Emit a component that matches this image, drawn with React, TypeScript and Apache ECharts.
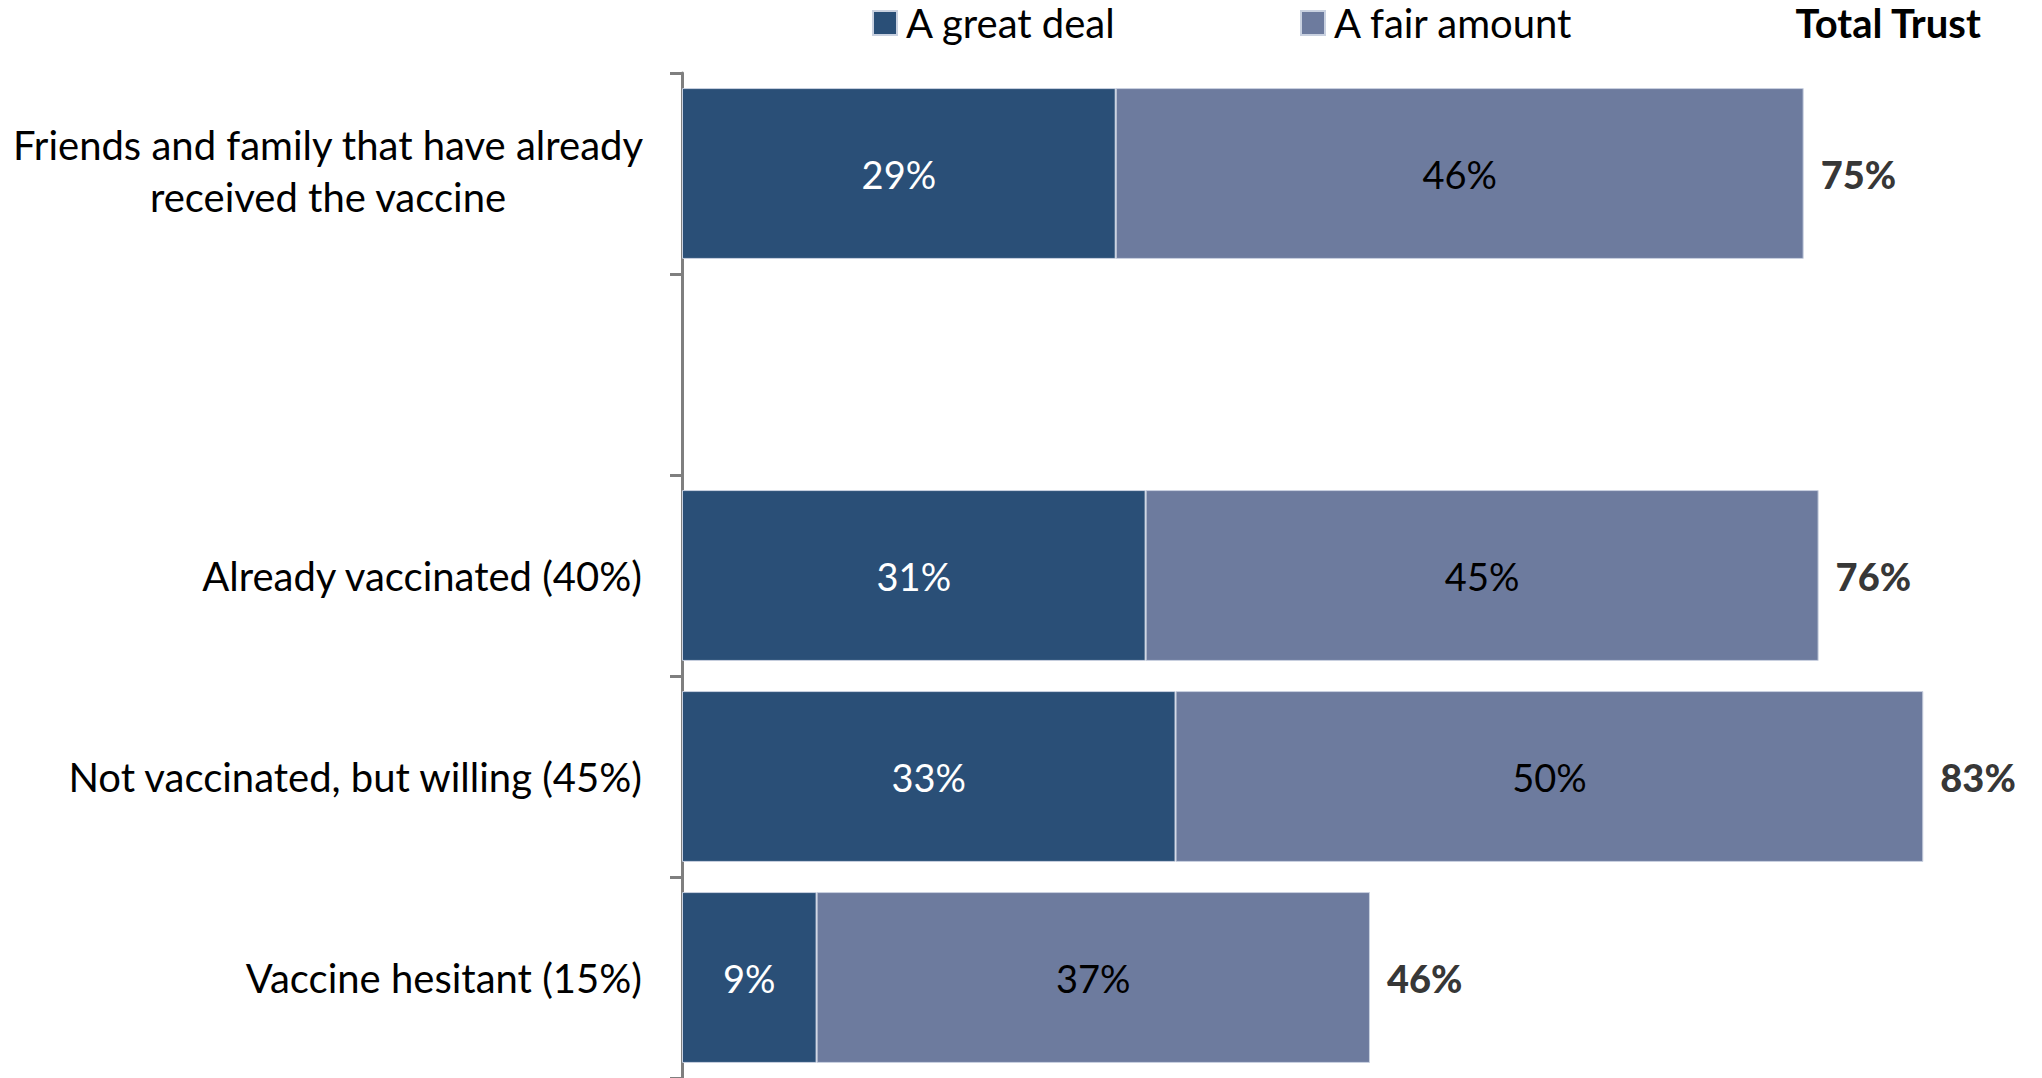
import React, { useEffect, useRef } from "react";
import * as echarts from "echarts";

const categories: string[] = [
  "Friends and family that have already\nreceived the vaccine",
  "",
  "Already vaccinated (40%)",
  "Not vaccinated, but willing (45%)",
  "Vaccine hesitant (15%)",
];
const greatDeal: (number | null)[] = [29, null, 31, 33, 9];
const fairAmount: (number | null)[] = [46, null, 45, 50, 37];
const totalTrust: (number | null)[] = [75, null, 76, 83, 46];
const seriesNames: string[] = ["A great deal", "A fair amount"];
const totalHeader = "Total Trust";

const FONT = "Lato, 'Open Sans', sans-serif";
const DARK = "#2A4F77";
const LIGHT = "#6D7B9E";

export default function App() {
  const ref = useRef<HTMLDivElement>(null);
  useEffect(() => {
    if (!ref.current) return;
    const chart = echarts.init(ref.current, undefined, { renderer: "svg" });
    const pct = (p: any) => (p.value == null ? "" : p.value + "%");
    const legendText = { fontSize: 40, lineHeight: 40, color: "#000", fontFamily: FONT, padding: [0, 0, 0, 4] };
    const yData = categories.map((c) =>
      c.indexOf("\n") >= 0 ? { value: c, textStyle: { padding: [0, 0, 6, 0] } } : c
    );
    chart.setOption({
      animation: false,
      backgroundColor: "#ffffff",
      textStyle: { fontFamily: FONT },
      grid: { left: 682, top: 73, width: 1346, height: 1007, containLabel: false },
      legend: [
        {
          data: [seriesNames[0]],
          left: 872,
          top: 3,
          padding: 0,
          icon: "rect",
          itemWidth: 24,
          itemHeight: 24,
          textStyle: legendText,
          selectedMode: false,
        },
        {
          data: [seriesNames[1]],
          left: 1300,
          top: 3,
          padding: 0,
          icon: "rect",
          itemWidth: 24,
          itemHeight: 24,
          textStyle: legendText,
          selectedMode: false,
        },
      ],
      graphic: [
        {
          type: "text",
          right: 60,
          top: 3,
          style: {
            text: totalHeader,
            fill: "#000",
            font: `bold 40px ${FONT}`,
            lineHeight: 40,
          },
        },
      ],
      xAxis: {
        type: "value",
        min: 0,
        max: 90,
        show: false,
      },
      yAxis: {
        type: "category",
        data: yData,
        inverse: true,
        axisLine: { show: true, lineStyle: { color: "#7F7F7F", width: 3 } },
        axisTick: { show: true, length: 12, lineStyle: { color: "#7F7F7F", width: 3 } },
        axisLabel: {
          margin: 40,
          fontSize: 40,
          color: "#000",
          fontFamily: FONT,
          lineHeight: 52,
          align: "right",
          formatter: (v: string) =>
            v.indexOf("\n") >= 0 ? v.split("\n").map((l) => `{c|${l}}`).join("\n") : v,
          rich: {
            c: { width: 628, align: "center", fontSize: 40, lineHeight: 52, color: "#000", fontFamily: FONT },
          },
        },
        splitLine: { show: false },
      },
      series: [
        {
          name: seriesNames[0],
          type: "bar",
          stack: "trust",
          data: greatDeal,
          barCategoryGap: "15%",
          itemStyle: { color: DARK, borderColor: "#C9D1E0", borderWidth: 1 },
          label: { show: true, position: "inside", color: "#fff", fontSize: 38, fontFamily: FONT, formatter: pct },
        },
        {
          name: seriesNames[1],
          type: "bar",
          stack: "trust",
          data: fairAmount,
          barCategoryGap: "15%",
          itemStyle: { color: LIGHT, borderColor: "#C9D1E0", borderWidth: 1 },
          label: { show: true, position: "inside", color: "#000", fontSize: 38, fontFamily: FONT, formatter: pct },
        },
        {
          name: "Total",
          type: "scatter",
          symbolSize: 0,
          data: totalTrust.map((t, i) => (t == null ? null : [t, i])),
          label: {
            show: true,
            position: "right",
            distance: 17,
            color: "#000",
            fontSize: 38,
            fontWeight: 900,
            fontFamily: FONT,
            formatter: (p: any) => p.value[0] + "%",
          },
        },
      ],
    });
    return () => chart.dispose();
  }, []);
  return (
    <div
      ref={ref}
      style={{ position: "fixed", left: 0, top: 0, width: 2042, height: 1078, background: "#fff" }}
    />
  );
}
